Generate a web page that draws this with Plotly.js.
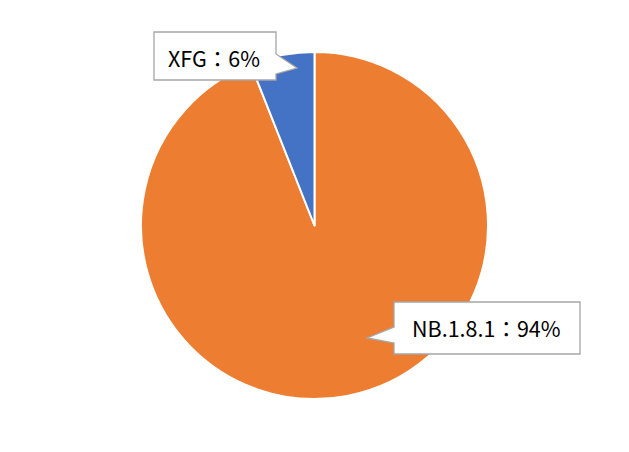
<!DOCTYPE html>
<html>
<head>
<meta charset="utf-8">
<script src="https://cdn.plot.ly/plotly-3.0.1.min.js"></script>
<style>html,body{margin:0;padding:0;background:#fff}#chart{width:629px;height:452px}</style>
</head>
<body>
<div id="chart"></div>
<script>
const labels = ["NB.1.8.1", "XFG"];
const values = [94, 6];
const colors = ["#ED7D31", "#4472C4"];
const labelTexts = labels.map((l, i) => l + "：" + values[i] + "%");

const W = 629, H = 452, MT = 52, MB = 53;
const PH = H - MT - MB;
const px = x => x / W;
const py = y => (H - MB - y) / PH;
function path(pts) {
  return "M" + pts.map(p => px(p[0]).toFixed(5) + "," + py(p[1]).toFixed(5)).join("L") + "Z";
}
const calloutStyle = {type: "path", xref: "paper", yref: "paper", fillcolor: "#ffffff", line: {color: "#A6A6A6", width: 1.3}, layer: "above"};

const shapes = [
  Object.assign({}, calloutStyle, {path: path([[154,32],[276,32],[276,54],[297,68],[276,74],[276,80],[154,80]])}),
  Object.assign({}, calloutStyle, {path: path([[394,302],[580,302],[580,354],[394,354],[394,343],[367,338],[394,327]])})
];

const font = {family: "'Noto Sans CJK TC', sans-serif", size: 21.5, color: "#000"};
const annotations = [
  {x: px(214), y: py(57), xref: "paper", yref: "paper", text: labelTexts[1], showarrow: false, font: font, xanchor: "center", yanchor: "middle"},
  {x: px(486), y: py(327), xref: "paper", yref: "paper", text: labelTexts[0], showarrow: false, font: font, xanchor: "center", yanchor: "middle"}
];

Plotly.newPlot("chart", [{
  type: "pie",
  labels: labels,
  values: values,
  sort: false,
  direction: "clockwise",
  rotation: 0,
  marker: {colors: colors, line: {color: "#ffffff", width: 2}},
  textinfo: "none",
  hoverinfo: "none",
  showlegend: false
}], {
  width: W, height: H,
  margin: {l: 0, r: 0, t: MT, b: MB, pad: 0},
  paper_bgcolor: "#ffffff",
  plot_bgcolor: "#ffffff",
  showlegend: false,
  shapes: shapes,
  annotations: annotations
}, {displayModeBar: false, staticPlot: true});
</script>
</body>
</html>
